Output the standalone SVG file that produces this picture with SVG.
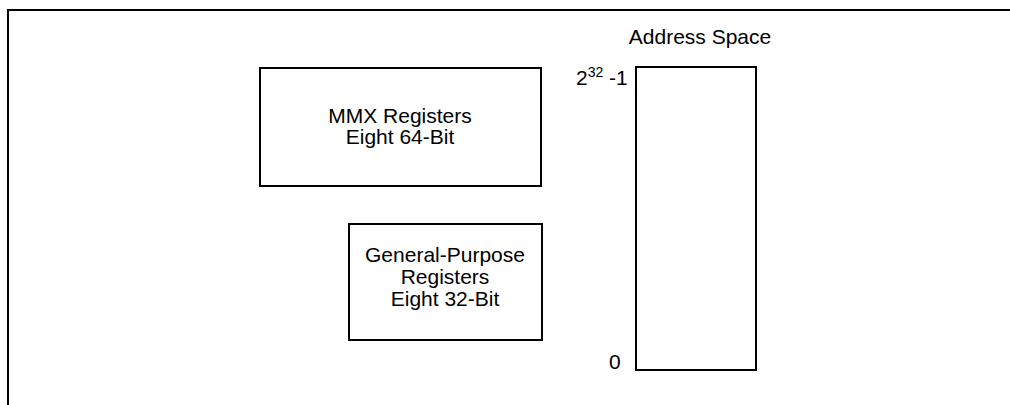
<svg xmlns="http://www.w3.org/2000/svg" width="1010" height="405" viewBox="0 0 1010 405">
<style>
.box{fill:#fff;stroke:#000;stroke-width:2}
.t{font-family:"Liberation Sans",Arial,sans-serif;font-size:21px;fill:#000}
.c{text-anchor:middle}
</style>
<rect width="1010" height="405" fill="#fff"/>
<g id="frame">
<path d="M8,405 V10 H1010" fill="none" stroke="#000" stroke-width="2"/>
</g>
<g id="connectors"/>
<g id="mmx">
<rect class="box" x="260" y="68" width="281" height="118"/>
<text class="t c" x="400" y="123">MMX Registers</text>
<text class="t c" x="400" y="144">Eight 64-Bit</text>
</g>
<g id="gpr">
<rect class="box" x="349" y="224" width="193" height="116"/>
<text class="t c" x="445" y="262">General-Purpose</text>
<text class="t c" x="445" y="284">Registers</text>
<text class="t c" x="445" y="306">Eight 32-Bit</text>
</g>
<g id="address">
<text class="t c" x="700" y="44">Address Space</text>
<rect class="box" x="636" y="67" width="120" height="303"/>
<text class="t" x="576" y="85">2<tspan dy="-8" font-size="14">32</tspan><tspan dy="8"> -1</tspan></text>
<text class="t" x="609" y="369">0</text>
</g>
</svg>
